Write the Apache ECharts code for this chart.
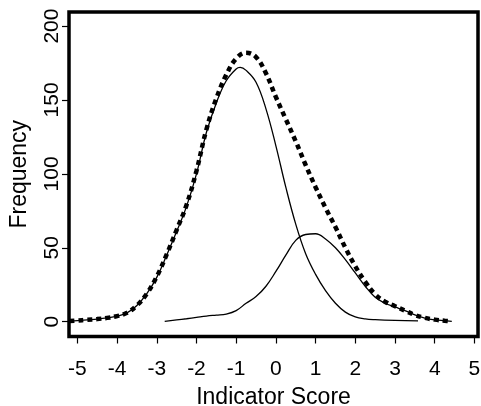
<!DOCTYPE html>
<html>
<head>
<meta charset="utf-8">
<script src="https://cdn.jsdelivr.net/npm/echarts@6/dist/echarts.min.js"></script>
<style>
  html, body { margin: 0; padding: 0; background: #fff; }
  #chart1 { width: 481px; height: 406px; }
</style>
</head>
<body>
<div id="chart1"></div>
<script>
// 刻度
const xTicks = [-5, -4, -3, -2, -1, 0, 1, 2, 3, 4, 5];
const yTicks = [0, 50, 100, 150, 200];

// 左边的实线曲线
const xA = [-5.2, -5.0, -4.75, -4.5, -4.25, -4.0, -3.75, -3.5, -3.25, -3.0, -2.75, -2.5, -2.25, -2.0, -1.75, -1.5, -1.25, -1.0, -0.9, -0.75, -0.5, -0.25, 0.0, 0.25, 0.5, 0.75, 1.0, 1.25, 1.5, 1.75, 2.0, 2.25, 2.5, 3.0, 3.58];
const yA = [0.5, 0.8, 1.3, 1.8, 2.6, 3.8, 6, 11, 19, 30, 45, 61, 78, 100, 128, 148, 163, 171, 172, 170, 162, 144, 119, 91, 66, 46, 32, 21, 12.5, 6.5, 3.2, 1.9, 1.4, 0.9, 0.6];

// 右边的实线曲线
const xB = [-2.8, -2.5, -2.25, -2.0, -1.75, -1.5, -1.25, -1.0, -0.75, -0.5, -0.25, 0.0, 0.25, 0.5, 0.75, 1.0, 1.25, 1.5, 1.75, 2.0, 2.25, 2.5, 2.75, 3.0, 3.25, 3.5, 3.75, 4.0, 4.25, 4.43];
const yB = [0.3, 1.2, 2.0, 2.9, 3.8, 4.5, 5.2, 7.5, 12.5, 17, 24, 34, 45, 55, 59, 59.5, 56, 50, 42, 33, 24, 16.5, 12.5, 10, 7.5, 4.6, 2.5, 1.3, 0.7, 0.3];

// 合计 (粗点线)
const xT = [-5.2, -5.0, -4.75, -4.5, -4.25, -4.0, -3.75, -3.5, -3.25, -3.0, -2.75, -2.5, -2.25, -2.0, -1.75, -1.5, -1.25, -1.0, -0.75, -0.5, -0.25, 0.0, 0.25, 0.5, 0.75, 1.0, 1.25, 1.5, 1.75, 2.0, 2.25, 2.5, 2.75, 3.0, 3.25, 3.5, 3.75, 4.0, 4.25, 4.43];
const yT = [0.5, 0.8, 1.3, 1.8, 2.6, 3.8, 6, 11, 19, 30.5, 45.5, 62, 79, 102, 130, 151, 167, 178, 182, 179, 168, 152, 137, 122, 106, 91, 77, 64, 50, 37.5, 27, 18.5, 13.5, 10.5, 7.5, 4.6, 2.6, 1.4, 0.7, 0.3];

const pairs = (xs, ys) => xs.map((x, i) => [x, ys[i]]);

const font = '"Liberation Sans", Arial, Helvetica, sans-serif';

const chart = echarts.init(document.getElementById('chart1'));

const optionData = {
  animation: false,
  grid: {
    left: 69,
    right: 3,
    top: 12,
    bottom: 69.5,
    containLabel: false,
    outerBoundsMode: 'none',
    show: true,
    borderColor: '#000',
    borderWidth: 3.5,
    backgroundColor: 'transparent'
  },
  xAxis: {
    type: 'value',
    min: -5.21,
    max: 5.09,
    name: 'Indicator Score',
    nameLocation: 'middle',
    nameGap: 50,
    nameTextStyle: { color: '#000', fontSize: 23, fontFamily: font },
    axisLine: { show: false, onZero: false },
    splitLine: { show: false },
    axisTick: {
      show: true,
      inside: false,
      customValues: xTicks,
      length: 7,
      lineStyle: { color: '#000', width: 1.2 }
    },
    axisLabel: {
      customValues: xTicks,
      margin: 22,
      color: '#000',
      fontSize: 21,
      fontFamily: font
    }
  },
  yAxis: {
    type: 'value',
    min: -10,
    max: 209.5,
    name: 'Frequency',
    nameLocation: 'middle',
    nameGap: 38,
    nameTextStyle: { color: '#000', fontSize: 23, fontFamily: font },
    axisLine: { show: false, onZero: false },
    splitLine: { show: false },
    axisTick: {
      show: true,
      inside: false,
      customValues: yTicks,
      length: 7,
      lineStyle: { color: '#000', width: 1.2 }
    },
    axisLabel: {
      customValues: yTicks,
      rotate: 90,
      margin: 6,
      color: '#000',
      fontSize: 21,
      fontFamily: font
    }
  },
  series: [
    {
      type: 'line',
      data: pairs(xA, yA),
      smooth: 0.4,
      symbol: 'none',
      lineStyle: { color: '#000', width: 1.3 }
    },
    {
      type: 'line',
      data: pairs(xB, yB),
      smooth: 0.4,
      symbol: 'none',
      lineStyle: { color: '#000', width: 1.3 }
    },
    {
      type: 'line',
      data: pairs(xT, yT),
      smooth: 0.4,
      symbol: 'none',
      lineStyle: { color: '#000', width: 4.5, type: [5, 4], cap: 'butt' }
    }
  ]
};

chart.setOption(optionData);
</script>
</body>
</html>
